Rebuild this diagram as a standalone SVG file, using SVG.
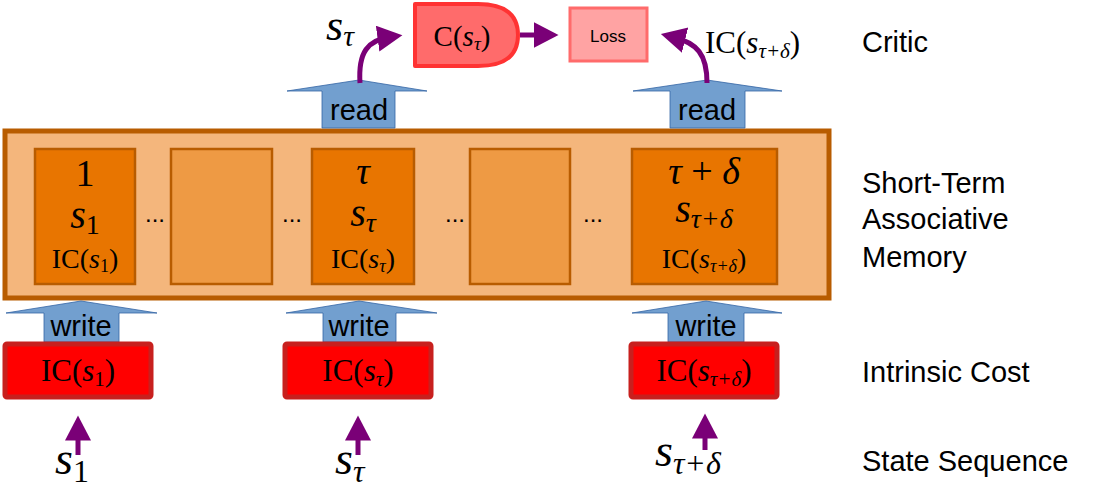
<svg xmlns="http://www.w3.org/2000/svg" width="1096" height="488" viewBox="0 0 1096 488">
<style>
.lbl{font-family:"Liberation Sans",Arial,sans-serif;font-size:29px;fill:#000}
.m{font-family:"Liberation Serif","DejaVu Serif",serif;fill:#000}
.i{font-style:italic}
.cell{fill:#e87500;stroke:#b85c00;stroke-width:2.5}
.empty{fill:#ee9a44;stroke:#b85c00;stroke-width:2.5}
.blue{fill:#729fcf;stroke:#3465a4;stroke-width:0.8}
.ic{fill:#ff0000;stroke:#c8201e;stroke-width:5}
.pl{stroke:#7a0077;stroke-width:5;fill:none}
.dots{font-family:"Liberation Sans",sans-serif;font-size:24px}
</style>
<defs>
<marker id="ah" markerWidth="6" markerHeight="6" refX="2.5" refY="2.6" orient="auto" markerUnits="strokeWidth"><path d="M0,0 L5,2.6 L0,5.2 Z" fill="#7a0077"/></marker>
</defs>
<g id="memory">
<rect x="5" y="131" width="824" height="167" fill="#f4b67c" stroke="#b85c00" stroke-width="5"/>
</g>
<g id="cell1"><rect class="cell" x="35" y="149" width="100" height="135"/>
<text class="m" x="85" y="186" font-size="38" text-anchor="middle">1</text>
<text class="m" x="85" y="228" font-size="40" text-anchor="middle"><tspan class="i">s</tspan><tspan font-size="28" dy="6">1</tspan></text>
<text class="m" x="85" y="268" font-size="28" text-anchor="middle">IC(<tspan class="i">s</tspan><tspan font-size="18" dy="4">1</tspan><tspan dy="-4">)</tspan></text></g>
<g id="cell2"><rect class="empty" x="171" y="149" width="101" height="135"/></g>
<g id="cell3"><rect class="cell" x="312" y="149" width="102" height="135"/>
<text class="m i" x="363" y="184" font-size="38" text-anchor="middle">τ</text>
<text class="m" x="363" y="226" font-size="40" text-anchor="middle"><tspan class="i">s</tspan><tspan class="i" font-size="28" dy="6">τ</tspan></text>
<text class="m" x="363" y="268" font-size="28" text-anchor="middle">IC(<tspan class="i">s</tspan><tspan class="i" font-size="18" dy="4">τ</tspan><tspan dy="-4">)</tspan></text></g>
<g id="cell4"><rect class="empty" x="470" y="149" width="100" height="135"/></g>
<g id="cell5"><rect class="cell" x="632" y="149" width="145" height="135"/>
<text class="m" x="704" y="184" font-size="38" text-anchor="middle"><tspan class="i">τ</tspan> + <tspan class="i">δ</tspan></text>
<text class="m" x="704" y="222" font-size="40" text-anchor="middle"><tspan class="i">s</tspan><tspan class="i" font-size="28" dy="6">τ+δ</tspan></text>
<text class="m" x="704" y="268" font-size="28" text-anchor="middle">IC(<tspan class="i">s</tspan><tspan class="i" font-size="18" dy="4">τ+δ</tspan><tspan dy="-4">)</tspan></text></g>
<g id="dots">
<text class="dots" x="155" y="222" text-anchor="middle">...</text>
<text class="dots" x="292" y="222" text-anchor="middle">...</text>
<text class="dots" x="455" y="222" text-anchor="middle">...</text>
<text class="dots" x="593" y="222" text-anchor="middle">...</text>
</g>
<g id="read1"><path class="blue" d="M287,91 L359,80 L427,91 L395,91 L395,128 L322,128 L322,91 Z"/><text class="lbl" x="359" y="120" text-anchor="middle">read</text></g>
<g id="read2"><path class="blue" d="M633,91 L707,80 L782,91 L745,91 L745,128 L670,128 L670,91 Z"/><text class="lbl" x="707" y="120" text-anchor="middle">read</text></g>
<g id="write1"><path class="blue" d="M6,313 L81,301 L157,313 L119,313 L119,342 L44,342 L44,313 Z"/><text class="lbl" x="81" y="336" text-anchor="middle">write</text></g>
<g id="write2"><path class="blue" d="M286,313 L359,301 L437,313 L396,313 L396,342 L323,342 L323,313 Z"/><text class="lbl" x="359" y="336" text-anchor="middle">write</text></g>
<g id="write3"><path class="blue" d="M632,313 L706,301 L782,313 L744,313 L744,342 L668,342 L668,313 Z"/><text class="lbl" x="706" y="336" text-anchor="middle">write</text></g>
<g id="ic1"><rect class="ic" x="5" y="344" width="146" height="53" rx="2"/><text class="m" x="78" y="381" font-size="31" text-anchor="middle">IC(<tspan class="i">s</tspan><tspan font-size="21" dy="5">1</tspan><tspan dy="-5">)</tspan></text></g>
<g id="ic2"><rect class="ic" x="285" y="344" width="146" height="53" rx="2"/><text class="m" x="358" y="381" font-size="31" text-anchor="middle">IC(<tspan class="i">s</tspan><tspan class="i" font-size="21" dy="5">τ</tspan><tspan dy="-5">)</tspan></text></g>
<g id="ic3"><rect class="ic" x="631" y="344" width="146" height="53" rx="2"/><text class="m" x="704" y="381" font-size="31" text-anchor="middle">IC(<tspan class="i">s</tspan><tspan class="i" font-size="21" dy="5">τ+δ</tspan><tspan dy="-5">)</tspan></text></g>
<g id="critic"><path d="M415,4 L478,4 Q518,4 518,35 Q518,66 478,66 L415,66 Z" fill="#ff6b6b" stroke="#ff3333" stroke-width="4" stroke-linejoin="round"/>
<text class="m" x="462" y="46" font-size="29" text-anchor="middle">C(<tspan class="i">s</tspan><tspan class="i" font-size="19" dy="4">τ</tspan><tspan dy="-4">)</tspan></text></g>
<g id="loss"><rect x="570" y="8" width="77" height="53" fill="#ffa3a3" stroke="#ff6b6b" stroke-width="3"/><text x="608" y="42" font-family="Liberation Sans,sans-serif" font-size="17" text-anchor="middle">Loss</text></g>
<g id="connectors">
<path class="pl" d="M520,35 L546,35" marker-end="url(#ah)"/>
<path class="pl" d="M360,83 C358,52 368,40 390,37" marker-end="url(#ah)"/>
<path class="pl" d="M707,83 C707,54 697,43 673,37" marker-end="url(#ah)"/>
<path class="pl" d="M78,455 L78,428" marker-end="url(#ah)"/>
<path class="pl" d="M358,455 L358,428" marker-end="url(#ah)"/>
<path class="pl" d="M705,450 L705,426" marker-end="url(#ah)"/>
</g>
<g id="texts">
<text class="m" x="326" y="40" font-size="44"><tspan class="i">s</tspan><tspan class="i" font-size="30" dy="6">τ</tspan></text>
<text class="m" x="705" y="53" font-size="31">IC(<tspan class="i">s</tspan><tspan class="i" font-size="21" dy="5">τ+δ</tspan><tspan dy="-5">)</tspan></text>
<text class="m" x="55" y="474" font-size="46"><tspan class="i">s</tspan><tspan font-size="32" dy="8">1</tspan></text>
<text class="m" x="335" y="474" font-size="46"><tspan class="i">s</tspan><tspan class="i" font-size="32" dy="8">τ</tspan></text>
<text class="m" x="655" y="466" font-size="46"><tspan class="i">s</tspan><tspan class="i" font-size="32" dy="8">τ+δ</tspan></text>
<text class="lbl" x="862" y="52">Critic</text>
<text class="lbl" x="862" y="193">Short-Term</text>
<text class="lbl" x="862" y="229">Associative</text>
<text class="lbl" x="862" y="267">Memory</text>
<text class="lbl" x="862" y="382">Intrinsic Cost</text>
<text class="lbl" x="862" y="471">State Sequence</text>
</g>
</svg>
